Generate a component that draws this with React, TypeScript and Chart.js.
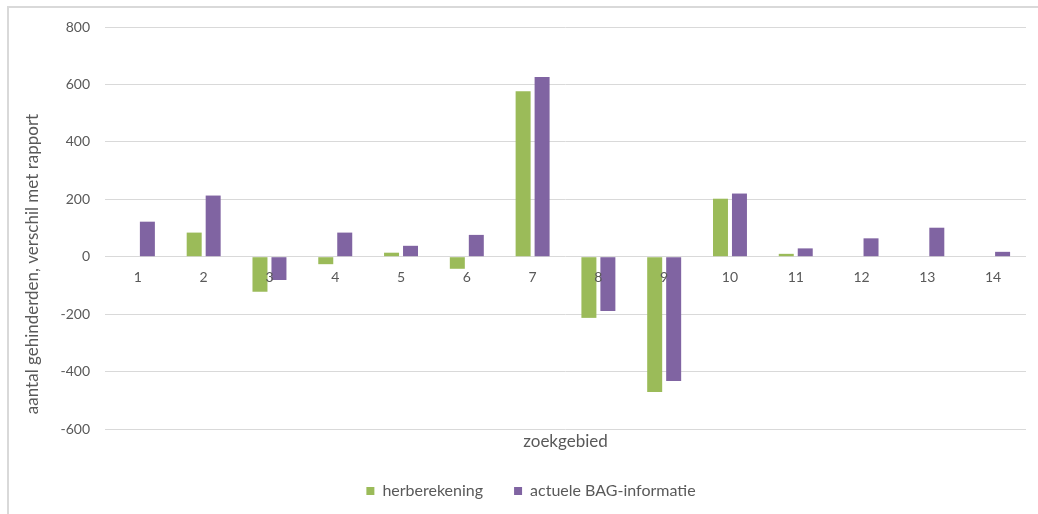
import React, { useEffect, useRef } from "react";
import { Chart, registerables } from "chart.js";

Chart.register(...registerables);

const categories = ["1", "2", "3", "4", "5", "6", "7", "8", "9", "10", "11", "12", "13", "14"];
const herberekening = [0, 84, -122, -26, 14, -42, 576, -213, -471, 202, 10, 0, 0, 0];
const actueleBAG = [122, 213, -81, 84, 38, 76, 626, -189, -433, 220, 29, 64, 101, 17];
const yTicks = [-600, -400, -200, 0, 200, 400, 600, 800];
const yTitle = "aantal gehinderden, verschil met rapport";

const FONT = "Lato, 'Open Sans', sans-serif";
const TEXT = "#595959";

const textPlugin = {
  id: "extraText",
  afterDatasetsDraw(chart: any) {
    const x = chart.scales.x;
    const y = chart.scales.y;
    const ctx = chart.ctx;
    const y0 = y.getPixelForValue(0);
    ctx.save();
    ctx.font = `14px ${FONT}`;
    ctx.fillStyle = TEXT;
    ctx.textAlign = "center";
    ctx.textBaseline = "middle";
    categories.forEach((c, i) => {
      ctx.fillText(c, x.getPixelForTick(i), y0 + 21);
    });
    ctx.restore();
  },
  afterDraw(chart: any) {
    const ctx = chart.ctx;
    ctx.save();
    ctx.font = `17px ${FONT}`;
    ctx.fillStyle = TEXT;
    ctx.textAlign = "center";
    ctx.textBaseline = "middle";
    ctx.translate(33, 264);
    ctx.rotate(-Math.PI / 2);
    ctx.fillText(yTitle, 0, 0);
    ctx.restore();
  },
};

export default function App() {
  const ref = useRef<HTMLCanvasElement>(null);
  useEffect(() => {
    if (!ref.current) return;
    const chart = new Chart(ref.current, {
      type: "bar",
      data: {
        labels: categories,
        datasets: [
          {
            label: "herberekening",
            data: herberekening,
            backgroundColor: "#9BBB59",
            categoryPercentage: 0.577,
            barPercentage: 0.79,
          },
          {
            label: "actuele BAG-informatie",
            data: actueleBAG,
            backgroundColor: "#8064A2",
            categoryPercentage: 0.577,
            barPercentage: 0.79,
          },
        ],
      },
      options: {
        responsive: false,
        animation: false,
        devicePixelRatio: 1,
        layout: { padding: { top: 27, right: 12, left: 36, bottom: 5 } },
        plugins: {
          tooltip: { enabled: false },
          legend: {
            position: "bottom",
            labels: {
              boxWidth: 8,
              boxHeight: 8,
              padding: 31,
              color: TEXT,
              font: { family: FONT, size: 16 },
            },
          },
        },
        scales: {
          x: {
            grid: { display: false, drawTicks: false },
            border: { display: false },
            ticks: { display: false },
            title: {
              display: true,
              text: "zoekgebied",
              color: TEXT,
              font: { family: FONT, size: 17 },
              padding: { top: 0, bottom: 0 },
            },
            afterFit(scale: any) {
              scale.height = 23;
            },
          },
          y: {
            min: -600,
            max: 800,
            afterBuildTicks(scale: any) {
              scale.ticks = yTicks.map((v) => ({ value: v }));
            },
            grid: { color: "#d9d9d9", lineWidth: 1, drawTicks: false },
            border: { display: false },
            ticks: {
              padding: 15,
              color: TEXT,
              font: { family: FONT, size: 14 },
            },
            afterFit(scale: any) {
              scale.width = 69;
            },
          },
        },
      },
      plugins: [textPlugin],
    });
    return () => chart.destroy();
  }, []);

  return (
    <div
      style={{
        position: "absolute",
        left: 0,
        top: 0,
        width: 1038,
        height: 514,
        overflow: "hidden",
        background: "#fff",
      }}
    >
      <div
        style={{
          position: "absolute",
          left: 7,
          top: 6,
          width: 1100,
          height: 600,
          border: "2px solid #d9d9d9",
        }}
      />
      <canvas
        ref={ref}
        width={1038}
        height={514}
        style={{ position: "absolute", left: 0, top: 0, display: "block" }}
      />
    </div>
  );
}
